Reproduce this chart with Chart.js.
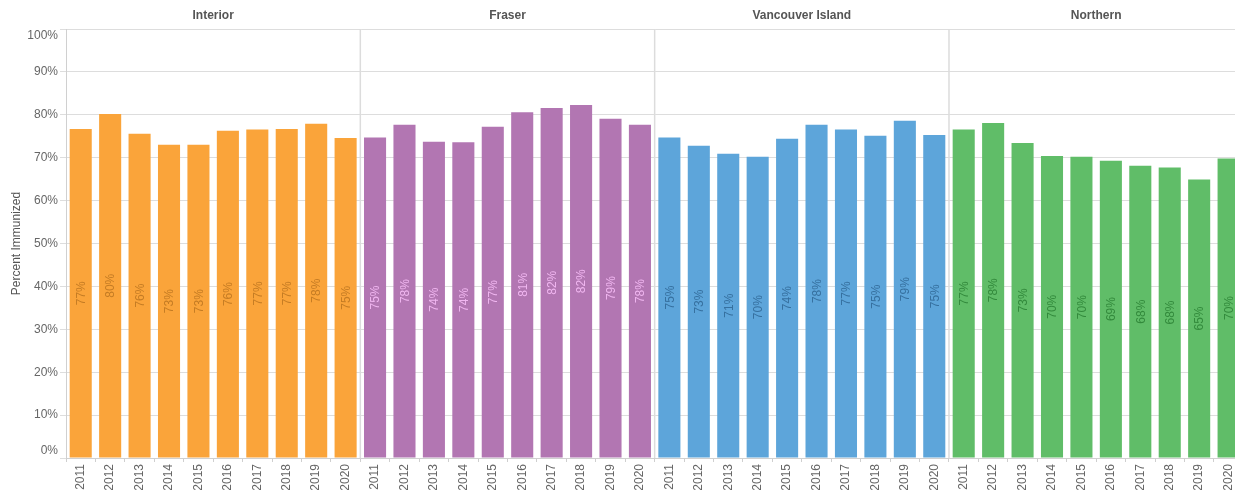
<!DOCTYPE html>
<html>
<head>
<meta charset="utf-8">
<script src="https://cdn.jsdelivr.net/npm/chart.js@4"></script>
<style>
html,body{margin:0;padding:0;background:#fff;overflow:hidden;}
#wrap{width:1245px;height:490px;}
</style>
</head>
<body>
<div id="wrap"><canvas id="c" width="1245" height="490"></canvas></div>
<script>
const years = ['2011','2012','2013','2014','2015','2016','2017','2018','2019','2020'];
const regions = ['Interior','Fraser','Vancouver Island','Northern'];
const interior = [76.7, 80.2, 75.6, 73.0, 73.0, 76.3, 76.6, 76.7, 77.9, 74.6];
const fraser = [74.7, 77.7, 73.7, 73.6, 77.2, 80.6, 81.6, 82.3, 79.1, 77.7];
const vancouverIsland = [74.7, 72.8, 70.9, 70.2, 74.4, 77.7, 76.6, 75.1, 78.6, 75.3];
const northern = [76.6, 78.1, 73.4, 70.4, 70.2, 69.3, 68.1, 67.7, 64.9, 69.8];
const barColors = ['#FAA43A', '#B276B2', '#5DA5DA', '#60BD68'];
const labelColors = ['#C57C24', '#F0B6F0', '#36709F', '#338A3C'];
const yTicks = [0,10,20,30,40,50,60,70,80,90,100];

const series = [interior, fraser, vancouverIsland, northern];
const labels = [];
regions.forEach(() => years.forEach(y => labels.push(y)));
const datasets = series.map((vals, r) => {
  const d = new Array(labels.length).fill(null);
  vals.forEach((v, i) => { d[r * years.length + i] = v; });
  return {
    label: regions[r],
    data: d,
    backgroundColor: barColors[r],
    borderWidth: 0,
    categoryPercentage: 1,
    barPercentage: 0.75,
    grouped: false
  };
});

const FONT = '"Liberation Sans", Arial, Helvetica, sans-serif';

const panelPlugin = {
  id: 'panels',
  beforeDatasetsDraw(chart) {
    const ctx = chart.ctx, xs = chart.scales.x, a = chart.chartArea;
    ctx.save();
    ctx.strokeStyle = '#dcdcdc';
    ctx.lineWidth = 1.5;
    for (let r = 1; r < regions.length; r++) {
      const i = r * years.length;
      const x = (xs.getPixelForValue(i - 1) + xs.getPixelForValue(i)) / 2;
      ctx.beginPath();
      ctx.moveTo(x, a.top);
      ctx.lineTo(x, a.bottom);
      ctx.stroke();
    }
    ctx.restore();
  },
  afterDatasetsDraw(chart) {
    const ctx = chart.ctx;
    ctx.save();
    ctx.font = '12px ' + FONT;
    ctx.textAlign = 'center';
    ctx.textBaseline = 'middle';
    chart.data.datasets.forEach((ds, di) => {
      const meta = chart.getDatasetMeta(di);
      meta.data.forEach((el, i) => {
        const v = ds.data[i];
        if (v === null || v === undefined) return;
        const yc = (el.y + el.base) / 2;
        ctx.save();
        ctx.translate(el.x, yc);
        ctx.rotate(-Math.PI / 2);
        ctx.fillStyle = labelColors[di];
        ctx.fillText(Math.round(v) + '%', 0, 1);
        ctx.restore();
      });
    });
    ctx.restore();
  },
  afterDraw(chart) {
    const ctx = chart.ctx, xs = chart.scales.x, ys = chart.scales.y, a = chart.chartArea;
    ctx.save();
    // panel titles
    ctx.font = 'bold 12px ' + FONT;
    ctx.fillStyle = '#555';
    ctx.textAlign = 'center';
    ctx.textBaseline = 'middle';
    regions.forEach((name, r) => {
      const i0 = r * years.length, i1 = i0 + years.length - 1;
      const w = xs.getPixelForValue(1) - xs.getPixelForValue(0);
      const left = xs.getPixelForValue(i0) - w / 2;
      const right = xs.getPixelForValue(i1) + w / 2;
      ctx.fillText(name, (left + right) / 2, 16);
    });
    // flush y labels for 0% and 100%
    ctx.font = '12px ' + FONT;
    ctx.fillStyle = '#666';
    ctx.textAlign = 'right';
    const lx = a.left - 8;
    ctx.textBaseline = 'top';
    ctx.fillText(yTicks[yTicks.length - 1] + '%', lx, ys.getPixelForValue(100) + 1);
    ctx.textBaseline = 'bottom';
    ctx.fillText(yTicks[0] + '%', lx, ys.getPixelForValue(0) - 1);
    ctx.restore();
  }
};

new Chart(document.getElementById('c'), {
  type: 'bar',
  data: { labels, datasets },
  plugins: [panelPlugin],
  options: {
    responsive: false,
    animation: false,
    layout: { padding: { top: 29, left: 0, right: 0, bottom: 0 } },
    plugins: {
      legend: { display: false },
      tooltip: { enabled: false }
    },
    scales: {
      x: {
        afterFit(s) { s.height = 32; },
        grid: { display: true, drawOnChartArea: false, drawTicks: true, tickLength: 4, color: '#cfcfcf', offset: true },
        border: { display: true, color: '#d0d0d0' },
        ticks: {
          autoSkip: false,
          minRotation: 90,
          maxRotation: 90,
          padding: 2,
          color: '#666',
          font: { family: FONT, size: 12 }
        }
      },
      y: {
        min: 0,
        max: 100,
        afterFit(s) { s.width = 66; },
        afterBuildTicks(s) { s.ticks = yTicks.map(v => ({ value: v })); },
        grid: { color: '#dddddd', tickLength: 6, drawTicks: true },
        border: { display: true, color: '#d0d0d0' },
        title: {
          display: true,
          text: 'Percent Immunized',
          color: '#555',
          font: { family: FONT, size: 12 },
          padding: { top: 9, bottom: 0 }
        },
        ticks: {
          padding: 2,
          color: (c) => (c.tick && (c.tick.value === 0 || c.tick.value === 100)) ? 'rgba(0,0,0,0)' : '#666',
          font: { family: FONT, size: 12 },
          callback: (v) => v + '%'
        }
      }
    }
  }
});
</script>
</body>
</html>
